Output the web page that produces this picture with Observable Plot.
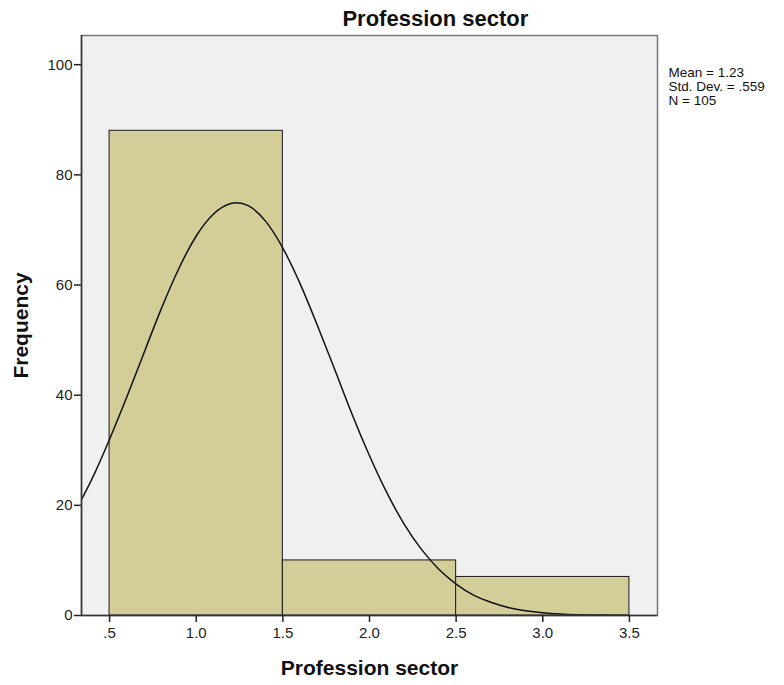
<!DOCTYPE html>
<html><head><meta charset="utf-8">
<script src="https://cdn.jsdelivr.net/npm/d3@7"></script>
<script src="https://cdn.jsdelivr.net/npm/@observablehq/plot@0.6"></script>
<style>body{margin:0;background:#fff;font-family:"Liberation Sans",Arial,sans-serif;}</style>
</head><body><div id="chart"></div>
<script>
const binStart = [0.5, 1.5, 2.5];
const binEnd = [1.5, 2.5, 3.5];
const frequency = [88, 10, 7];
const curveX = [0.3,0.4,0.5,0.6,0.7,0.8,0.9,1.0,1.1,1.2,1.3,1.4,1.5,1.6,1.7,1.8,1.9,2.0,2.1,2.2,2.3,2.4,2.5,2.6,2.7,2.8,2.9,3.0,3.1,3.2,3.3,3.4,3.5];
const curveY = [18.8,24.9,32.0,39.7,47.8,55.8,63.0,68.9,72.9,74.8,74.4,71.6,66.7,60.2,52.6,44.6,36.5,29.0,22.3,16.6,12.0,8.4,5.7,3.7,2.4,1.45,0.86,0.50,0.28,0.15,0.08,0.04,0.02];
const xTicks = [0.5,1.0,1.5,2.0,2.5,3.0,3.5];
const yTicks = [0,20,40,60,80,100];
const stats = ["Mean = 1.23", "Std. Dev. = .559", "N = 105"];
const title = "Profession sector";
const xLabel = "Profession sector";
const yLabel = "Frequency";

const bars = binStart.map((s,i)=>({x1:s, x2:binEnd[i], y:frequency[i]}));
const curve = curveX.map((x,i)=>({x, y:curveY[i]}));
const fmt = d => d === 0.5 ? ".5" : d3.format(".1f")(d);

const chart = Plot.plot({
  width: 784, height: 685,
  marginLeft: 81, marginRight: 127, marginTop: 35, marginBottom: 70,
  style: {fontFamily: '"Liberation Sans", Arial, sans-serif', fontSize: "14px", background: "#fff", color: "#222"},
  x: {domain: [0.338, 3.662], ticks: xTicks, tickFormat: fmt, label: null},
  y: {domain: [0, 105.3], ticks: yTicks, label: null},
  marks: [
    Plot.frame({fill: "#f0f0f0"}),
    Plot.rectY(bars, {x1: "x1", x2: "x2", y: "y", fill: "#d3ce98", stroke: "#1a1a1a", strokeWidth: 1}),
    Plot.line(curve, {x: "x", y: "y", curve: "natural", stroke: "#111", strokeWidth: 1.5, clip: "frame"}),
    Plot.frame({stroke: "#777", strokeWidth: 1.5}),
    Plot.ruleX([0.338], {stroke: "#333", strokeWidth: 1.5}),
    Plot.ruleY([0], {stroke: "#333", strokeWidth: 1.5}),
    Plot.axisY({ticks: yTicks, tickSize: 7, tickPadding: 2, fontSize: 15, label: null, strokeWidth: 1.5}),
    Plot.axisX({ticks: xTicks, tickSize: 7, tickPadding: 5, fontSize: 15, label: null, strokeWidth: 1.5, tickFormat: fmt}),
    Plot.text([title], {x: 2.38, frameAnchor: "top", dy: -17, lineAnchor: "middle", fontSize: 22, fontWeight: "bold", fill: "#111"}),
    ...stats.map((s, i) =>
      Plot.text([s], {frameAnchor: "top-right", dx: 11, dy: 37 + 14 * i, textAnchor: "start", lineAnchor: "middle", fontSize: 13.5, fill: "#111"})
    ),
    Plot.text([xLabel], {frameAnchor: "bottom", dy: 53, lineAnchor: "middle", textAnchor: "middle", fontSize: 21, fontWeight: "bold", fill: "#111"}),
    Plot.text([yLabel], {frameAnchor: "left", dx: -60, rotate: -90, textAnchor: "middle", fontSize: 21, fontWeight: "bold", fill: "#111"})
  ]
});
document.getElementById("chart").appendChild(chart);
</script>
</body></html>
